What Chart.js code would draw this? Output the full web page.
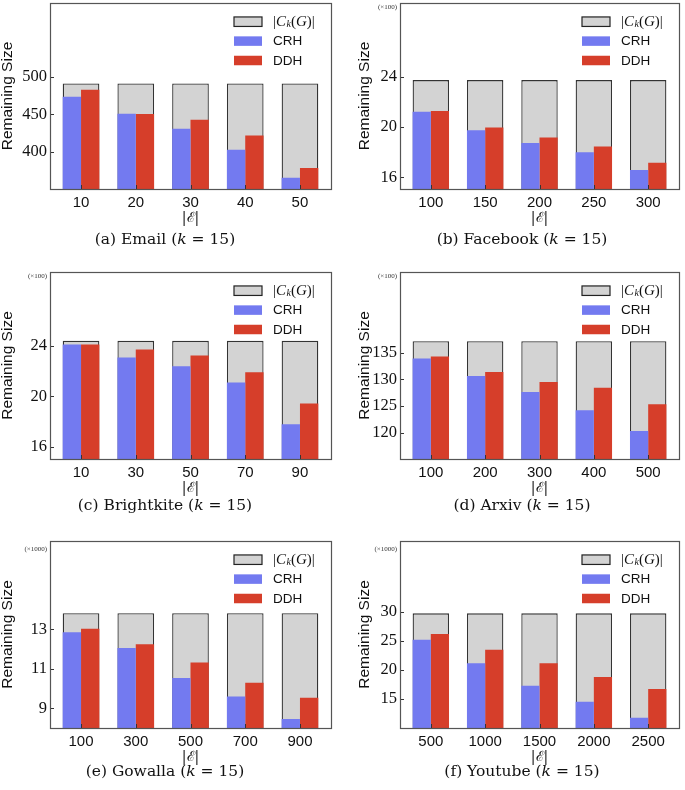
<!DOCTYPE html>
<html>
<head>
<meta charset="utf-8">
<script src="https://cdn.jsdelivr.net/npm/chart.js@4.4.1/dist/chart.umd.min.js"></script>
<style>
  body { margin: 0; background: #fff; }
  #fig { position: relative; width: 685px; height: 790px; }
  canvas { position: absolute; }
  .cap { position: absolute; width: 300px; text-align: center; font: 15.5px "DejaVu Serif", serif; color: #111; line-height: 20px; }
</style>
</head>
<body>
<div id="fig"></div>
<script>
// (a) Email
const emailCats = ['10', '20', '30', '40', '50'];
const emailCk = [491, 491, 491, 491, 491];
const emailCRH = [473.5, 451, 431, 403, 366];
const emailDDH = [482.7, 450.6, 443, 422, 379];
const emailTicks = [400, 450, 500];
const emailRange = [351, 598];

// (b) Facebook (x100)
const fbCats = ['100', '150', '200', '250', '300'];
const fbCk = [23.76, 23.76, 23.76, 23.76, 23.76];
const fbCRH = [21.23, 19.75, 18.74, 17.99, 16.57];
const fbDDH = [21.3, 19.98, 19.18, 18.45, 17.15];
const fbTicks = [16, 20, 24];
const fbRange = [15.06, 29.92];

// (c) Brightkite (x100)
const bkCats = ['10', '30', '50', '70', '90'];
const bkCk = [24.42, 24.42, 24.42, 24.42, 24.42];
const bkCRH = [24.13, 23.09, 22.41, 21.1, 17.78];
const bkDDH = [24.13, 23.73, 23.26, 21.93, 19.43];
const bkTicks = [16, 20, 24];
const bkRange = [15.02, 29.9];

// (d) Arxiv (x100)
const axCats = ['100', '200', '300', '400', '500'];
const axCk = [137.1, 137.1, 137.1, 137.1, 137.1];
const axCRH = [133.9, 130.6, 127.6, 124.2, 120.3];
const axDDH = [134.25, 131.35, 129.5, 128.4, 125.3];
const axTicks = [120, 125, 130, 135];
const axRange = [115.07, 150.07];

// (e) Gowalla (x1000)
const gwCats = ['100', '300', '500', '700', '900'];
const gwCk = [13.81, 13.81, 13.81, 13.81, 13.81];
const gwCRH = [12.85, 12.05, 10.53, 9.59, 8.46];
const gwDDH = [13.03, 12.24, 11.32, 10.29, 9.53];
const gwTicks = [9, 11, 13];
const gwRange = [8.0, 17.47];

// (f) Youtube (x1000)
const ytCats = ['500', '1000', '1500', '2000', '2500'];
const ytCk = [29.72, 29.72, 29.72, 29.72, 29.72];
const ytCRH = [25.17, 21.13, 17.3, 14.55, 11.8];
const ytDDH = [26.15, 23.47, 21.13, 18.8, 16.7];
const ytTicks = [15, 20, 25, 30];
const ytRange = [10.02, 42.15];

const seriesNames = ['|Ck(G)|', 'CRH', 'DDH'];
const GRAY = '#d3d3d3', BLUE = '#737af0', RED = '#d63e2a';

const panels = [
  { cats: emailCats, ck: emailCk, crh: emailCRH, ddh: emailDDH, ticks: emailTicks, range: emailRange, mult: '',
    cap: '(a) Email (<i>k</i> = 15)', col: 0, row: 0 },
  { cats: fbCats, ck: fbCk, crh: fbCRH, ddh: fbDDH, ticks: fbTicks, range: fbRange, mult: '(\u00d7100)',
    cap: '(b) Facebook (<i>k</i> = 15)', col: 1, row: 0 },
  { cats: bkCats, ck: bkCk, crh: bkCRH, ddh: bkDDH, ticks: bkTicks, range: bkRange, mult: '(\u00d7100)',
    cap: '(c) Brightkite (<i>k</i> = 15)', col: 0, row: 1 },
  { cats: axCats, ck: axCk, crh: axCRH, ddh: axDDH, ticks: axTicks, range: axRange, mult: '(\u00d7100)',
    cap: '(d) Arxiv (<i>k</i> = 15)', col: 1, row: 1 },
  { cats: gwCats, ck: gwCk, crh: gwCRH, ddh: gwDDH, ticks: gwTicks, range: gwRange, mult: '(\u00d71000)',
    cap: '(e) Gowalla (<i>k</i> = 15)', col: 0, row: 2 },
  { cats: ytCats, ck: ytCk, crh: ytCRH, ddh: ytDDH, ticks: ytTicks, range: ytRange, mult: '(\u00d71000)',
    cap: '(f) Youtube (<i>k</i> = 15)', col: 1, row: 2 }
];

// layout of the grid
const cols = [
  { x: 0, w: 342, yw: 50, padR: 11, titlePad: 0, capX: 165 },
  { x: 343, w: 342, yw: 57, padR: 6, titlePad: 14, capX: 522 }
];
const rows = [
  { y: 0, h: 230, padT: 3, capY: 229, multDy: 4 },
  { y: 262, h: 238, padT: 10, capY: 495, multDy: 4 },
  { y: 530, h: 239, padT: 11, capY: 761, multDy: 8 }
];

// frame, inward ticks, legend, multiplier
const decor = {
  id: 'decor',
  afterDraw(chart, args, opts) {
    const { ctx, chartArea: a, scales } = chart;
    ctx.save();
    // inward ticks
    ctx.strokeStyle = '#333';
    ctx.lineWidth = 1;
    ctx.beginPath();
    scales.y.ticks.forEach(t => {
      const py = Math.round(scales.y.getPixelForValue(t.value)) + 0.5;
      ctx.moveTo(a.left, py); ctx.lineTo(a.left + 4, py);
    });
    scales.x.ticks.forEach(t => {
      const px = Math.round(scales.x.getPixelForValue(t.value)) + 0.5;
      ctx.moveTo(px, a.bottom); ctx.lineTo(px, a.bottom - 4);
    });
    ctx.stroke();
    // frame
    ctx.strokeStyle = '#555';
    ctx.lineWidth = 1.2;
    ctx.strokeRect(Math.round(a.left) + 0.5, Math.round(a.top) + 0.5,
      Math.round(a.right - a.left), Math.round(a.bottom - a.top));
    // multiplier
    if (opts.mult) {
      ctx.fillStyle = '#333';
      ctx.font = '7px "Liberation Serif", serif';
      ctx.textAlign = 'right';
      ctx.textBaseline = 'middle';
      ctx.fillText(opts.mult, a.left - 3, a.top + opts.multDy);
    }
    // legend
    const ds = chart.data.datasets;
    const order = [2, 0, 1];
    const px = a.right - 97;
    order.forEach((di, r) => {
      const cy = a.top + 18.7 + r * 19.4;
      const d = ds[di];
      ctx.fillStyle = d.backgroundColor;
      ctx.fillRect(px, cy - 4.75, 28, 9.5);
      if (di === 2) {
        ctx.strokeStyle = '#222';
        ctx.lineWidth = 1.2;
        ctx.strokeRect(px, cy - 4.75, 28, 9.5);
      }
      ctx.fillStyle = '#111';
      ctx.textAlign = 'left';
      ctx.textBaseline = 'middle';
      let tx = a.right - 58;
      if (di === 2) {
        const parts = [
          ['|', '15px "Liberation Serif", serif', 0],
          ['C', 'italic 15px "Liberation Serif", serif', 0],
          ['k', 'italic 10px "Liberation Serif", serif', 3],
          ['(', '15px "Liberation Serif", serif', 0],
          ['G', 'italic 15px "Liberation Serif", serif', 0],
          [')|', '15px "Liberation Serif", serif', 0]
        ];
        parts.forEach(([s, f, dy]) => {
          ctx.font = f;
          ctx.fillText(s, tx, cy + dy);
          tx += ctx.measureText(s).width + (s === 'C' ? 0.5 : 0);
        });
      } else {
        ctx.font = '13.5px "Liberation Sans", sans-serif';
        ctx.fillText(d.label, tx, cy + 0.5);
      }
    });
    ctx.restore();
  }
};

const fig = document.getElementById('fig');

panels.forEach(p => {
  const c = cols[p.col], r = rows[p.row];
  const cv = document.createElement('canvas');
  cv.width = c.w; cv.height = r.h;
  cv.style.left = c.x + 'px'; cv.style.top = r.y + 'px';
  fig.appendChild(cv);

  const cap = document.createElement('div');
  cap.className = 'cap';
  cap.innerHTML = p.cap;
  cap.style.left = (c.capX - 150) + 'px';
  cap.style.top = r.capY + 'px';
  fig.appendChild(cap);

  const pts = arr => arr.map((v, i) => ({ x: i, y: v }));

  new Chart(cv, {
    type: 'bar',
    data: {
      datasets: [
        { label: seriesNames[1], data: pts(p.crh), backgroundColor: BLUE, borderWidth: 0,
          categoryPercentage: 0.67, barPercentage: 1, order: 0 },
        { label: seriesNames[2], data: pts(p.ddh), backgroundColor: RED, borderWidth: 0,
          categoryPercentage: 0.67, barPercentage: 1, order: 0 },
        { label: seriesNames[0], data: pts(p.ck), backgroundColor: GRAY, borderColor: '#333',
          borderWidth: 1.3, borderSkipped: false, grouped: false,
          categoryPercentage: 0.67, barPercentage: 1, order: 1 }
      ]
    },
    options: {
      responsive: false,
      animation: false,
      devicePixelRatio: 1,
      layout: { padding: { left: 0, right: c.padR, top: r.padT, bottom: 0 } },
      plugins: {
        legend: { display: false },
        tooltip: { enabled: false },
        decor: { mult: p.mult, multDy: r.multDy }
      },
      scales: {
        x: {
          type: 'linear',
          offset: false,
          min: -0.567, max: 4.567,
          grid: { display: false, drawTicks: false, offset: false },
          border: { display: false },
          afterBuildTicks: s => { s.ticks = p.cats.map((_, i) => ({ value: i })); },
          afterFit: s => { s.height = 41; s.paddingLeft = 0; s.paddingRight = 0; },
          ticks: {
            padding: 5,
            color: '#111',
            font: { family: '"Liberation Sans", sans-serif', size: 15 },
            callback: v => p.cats[v]
          },
          title: {
            display: true, text: '|\u2130|', color: '#111',
            font: { family: '"DejaVu Serif", serif', size: 14, lineHeight: 1.2 },
            padding: { top: 0, bottom: 3 }
          }
        },
        y: {
          min: p.range[0], max: p.range[1],
          grid: { display: false, drawTicks: false },
          border: { display: false },
          afterBuildTicks: s => { s.ticks = p.ticks.map(v => ({ value: v })); },
          afterFit: s => { s.width = c.yw; s.paddingTop = 0; s.paddingBottom = 0; },
          ticks: {
            padding: 3,
            color: '#111',
            font: { family: '"Liberation Serif", serif', size: 16.5 },
            callback: v => String(v)
          },
          title: {
            display: true, text: 'Remaining Size', color: '#111',
            font: { family: '"Liberation Sans", sans-serif', size: 15.5, lineHeight: 1.05 },
            padding: { top: c.titlePad, bottom: 0 }
          }
        }
      }
    },
    plugins: [decor]
  });
});
</script>
</body>
</html>
